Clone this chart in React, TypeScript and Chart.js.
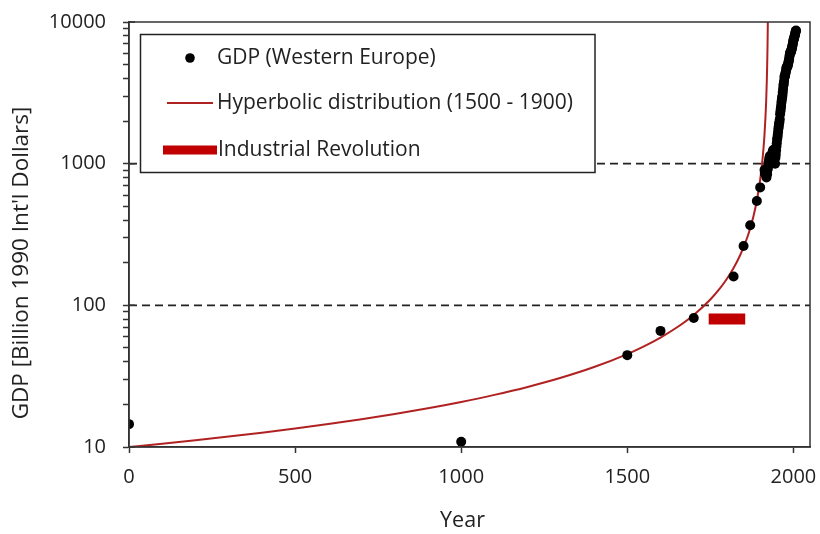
import React, { useEffect, useRef } from "react";
import { Chart, registerables } from "chart.js";

Chart.register(...registerables);

// ---- Data (billion 1990 Int'l dollars) ----
const GDP_YEARS = [
  0, 1000, 1500, 1600, 1700, 1820, 1850, 1870, 1890, 1900,
  1913, 1914, 1915, 1916, 1917, 1918, 1919, 1920, 1921, 1922,
  1923, 1924, 1925, 1926, 1927, 1928, 1929, 1930, 1931, 1932,
  1933, 1934, 1935, 1936, 1937, 1938, 1939, 1940, 1941, 1942,
  1943, 1944, 1945, 1946, 1947, 1948, 1949, 1950, 1951, 1952,
  1953, 1954, 1955, 1956, 1957, 1958, 1959, 1960, 1961, 1962,
  1963, 1964, 1965, 1966, 1967, 1968, 1969, 1970, 1971, 1972,
  1973, 1974, 1975, 1976, 1977, 1978, 1979, 1980, 1981, 1982,
  1983, 1984, 1985, 1986, 1987, 1988, 1989, 1990, 1991, 1992,
  1993, 1994, 1995, 1996, 1997, 1998, 1999, 2000, 2001, 2002,
  2003, 2004, 2005, 2006, 2007, 2008,
];
const GDP_VALUES = [
  14.5, 10.9, 44.5, 66, 81.5, 160, 262, 368, 545, 680,
  902, 860, 850, 870, 850, 840, 800, 850, 845, 910,
  925, 975, 1010, 1020, 1065, 1100, 1130, 1110, 1060, 1030,
  1060, 1090, 1120, 1150, 1200, 1220, 1250, 1210, 1240, 1220,
  1230, 1160, 1000, 1100, 1160, 1240, 1320, 1396, 1480, 1530,
  1600, 1680, 1770, 1840, 1920, 1970, 2060, 2230, 2340, 2440,
  2550, 2700, 2820, 2920, 3020, 3180, 3370, 3560, 3670, 3840,
  4096, 4180, 4150, 4330, 4440, 4570, 4730, 4800, 4810, 4850,
  4930, 5050, 5170, 5310, 5460, 5680, 5880, 6033, 6110, 6190,
  6150, 6330, 6480, 6590, 6760, 6960, 7160, 7430, 7560, 7640,
  7857, 8000, 8150, 8400, 8620, 8700,
];

const CURVE_YEARS = [
  0, 100, 200, 300, 400, 500, 600, 700, 800, 900,
  1000, 1100, 1200, 1300, 1400, 1500, 1550, 1600, 1650, 1700,
  1750, 1780, 1800, 1820, 1840, 1860, 1870, 1880, 1890, 1900,
  1905, 1910, 1913, 1916, 1918, 1920, 1921, 1922, 1923, 1924,
];
const CURVE_VALUES = [
  10.0, 10.55, 11.16, 11.85, 12.62, 13.51, 14.53, 15.71, 17.11, 18.78,
  20.81, 23.33, 26.55, 30.8, 36.67, 45.29, 51.33, 59.23, 70.0, 85.56,
  110, 132.8, 154, 183.3, 226.5, 296.2, 350, 427.8, 550, 770,
  962.5, 1283, 1604, 2139, 2750, 3850, 4813, 6417, 9625, 19250,
];

const IR_YEARS = [1745, 1855];
const IR_LEVEL = 80;

const REF_LEVELS = [100, 1000];

const X_MIN = 0;
const X_MAX = 2050;
const X_TICKS = [0, 500, 1000, 1500, 2000];
const Y_MIN = 10;
const Y_MAX = 10000;
const Y_TICKS = [
  10, 20, 30, 40, 50, 60, 70, 80, 90,
  100, 200, 300, 400, 500, 600, 700, 800, 900,
  1000, 2000, 3000, 4000, 5000, 6000, 7000, 8000, 9000,
  10000,
];
const Y_LABELED = [10, 100, 1000, 10000];

const X_TITLE = "Year";
const Y_TITLE = "GDP [Billion 1990 Int'l Dollars]";
const LEGEND_LABELS = [
  "GDP (Western Europe)",
  "Hyperbolic distribution (1500 - 1900)",
  "Industrial Revolution",
];

const FONT = "'Open Sans', 'Noto Sans', sans-serif";
const TEXT = "#222";
const AXIS = "#333";
const RED_LINE = "#b02222";
const RED_BAR = "#c00000";

const framePlugin = {
  id: "frame",
  afterDraw(chart: any) {
    const { ctx, chartArea } = chart;
    const { left, right, top, bottom } = chartArea;
    ctx.save();
    ctx.strokeStyle = AXIS;
    ctx.lineWidth = 1.5;
    ctx.strokeRect(left, top, right - left, bottom - top);
    // inward part of major ticks
    const y = chart.scales.y;
    ctx.beginPath();
    for (const v of Y_LABELED) {
      const py = y.getPixelForValue(v);
      ctx.moveTo(left, py);
      ctx.lineTo(left + 6, py);
    }
    ctx.stroke();

    // axis titles
    ctx.fillStyle = TEXT;
    ctx.textAlign = "center";
    ctx.textBaseline = "middle";
    ctx.font = `21.5px ${FONT}`;
    ctx.fillText(X_TITLE, 462.5, 521);
    ctx.save();
    ctx.translate(22, 263);
    ctx.rotate(-Math.PI / 2);
    ctx.font = `22.5px ${FONT}`;
    ctx.fillText(Y_TITLE, 0, 0);
    ctx.restore();

    // legend box
    const bx = 140.5, by = 34.5, bw = 454.5, bh = 138;
    ctx.fillStyle = "#fff";
    ctx.fillRect(bx, by, bw, bh);
    ctx.strokeStyle = "#222";
    ctx.lineWidth = 1.5;
    ctx.strokeRect(bx, by, bw, bh);

    ctx.font = `21px ${FONT}`;
    ctx.textBaseline = "middle";
    ctx.textAlign = "left";

    // item 1: dot
    ctx.beginPath();
    ctx.fillStyle = "#000";
    ctx.arc(190, 58, 4.8, 0, Math.PI * 2);
    ctx.fill();
    ctx.fillStyle = TEXT;
    ctx.fillText(LEGEND_LABELS[0], 217, 58);

    // item 2: thin red line
    ctx.beginPath();
    ctx.strokeStyle = RED_LINE;
    ctx.lineWidth = 2;
    ctx.moveTo(167, 103);
    ctx.lineTo(213, 103);
    ctx.stroke();
    ctx.fillText(LEGEND_LABELS[1], 217, 103);

    // item 3: thick red bar
    ctx.fillStyle = RED_BAR;
    ctx.fillRect(163, 145.5, 54, 9);
    ctx.fillStyle = TEXT;
    ctx.fillText(LEGEND_LABELS[2], 218, 150);
    ctx.restore();
  },
};

export default function App() {
  const ref = useRef<HTMLCanvasElement>(null);

  useEffect(() => {
    document.body.style.margin = "0";
    const canvas = ref.current;
    if (!canvas) return;

    const gdpPoints = GDP_YEARS.map((x, i) => ({ x, y: GDP_VALUES[i] }));
    const curvePoints = CURVE_YEARS.map((x, i) => ({ x, y: CURVE_VALUES[i] }));
    const irPoints = IR_YEARS.map((x) => ({ x, y: IR_LEVEL }));

    const refSets = REF_LEVELS.map((lvl, i) => ({
      label: "ref" + i,
      data: [
        { x: X_MIN, y: lvl },
        { x: X_MAX, y: lvl },
      ],
      showLine: true,
      borderColor: "#222",
      borderWidth: 1.8,
      borderDash: [8, 5],
      pointRadius: 0,
      order: 4,
    }));

    const chart = new Chart(canvas, {
      type: "scatter",
      data: {
        datasets: [
          {
            label: LEGEND_LABELS[0],
            data: gdpPoints,
            backgroundColor: "#000",
            borderColor: "#000",
            borderWidth: 0,
            pointRadius: 5,
            showLine: false,
            order: 0,
          },
          {
            label: LEGEND_LABELS[1],
            data: curvePoints,
            showLine: true,
            borderColor: RED_LINE,
            borderWidth: 2,
            pointRadius: 0,
            cubicInterpolationMode: "monotone",
            order: 1,
          },
          {
            label: LEGEND_LABELS[2],
            data: irPoints,
            showLine: true,
            borderColor: RED_BAR,
            borderWidth: 11,
            borderCapStyle: "butt",
            pointRadius: 0,
            order: 2,
          },
          ...refSets,
        ] as any,
      },
      options: {
        responsive: false,
        animation: false,
        events: [],
        layout: { padding: { top: 22, right: 10, left: 0, bottom: 0 } },
        plugins: {
          legend: { display: false },
          tooltip: { enabled: false },
        },
        scales: {
          x: {
            type: "linear",
            min: X_MIN,
            max: X_MAX,
            afterBuildTicks: (s: any) => {
              s.ticks = X_TICKS.map((v) => ({ value: v }));
            },
            afterFit: (s: any) => {
              s.height = 87;
              s.paddingLeft = 0;
              s.paddingRight = 0;
              s.paddingTop = 0;
              s.paddingBottom = 0;
            },
            ticks: {
              autoSkip: false,
              maxRotation: 0,
              includeBounds: false,
              padding: 12,
              color: TEXT,
              font: { family: FONT, size: 20 },
              callback: (v: any) => String(v),
            },
            grid: {
              drawOnChartArea: false,
              drawTicks: true,
              tickLength: 6,
              tickColor: AXIS,
              tickWidth: 1.5,
            },
            border: { color: AXIS, width: 1.5 },
            title: { display: false },
          },
          y: {
            type: "logarithmic",
            min: Y_MIN,
            max: Y_MAX,
            afterBuildTicks: (s: any) => {
              s.ticks = Y_TICKS.map((v) => ({ value: v }));
            },
            afterFit: (s: any) => {
              s.width = 129;
              s.paddingLeft = 0;
              s.paddingRight = 0;
              s.paddingTop = 0;
              s.paddingBottom = 0;
            },
            ticks: {
              autoSkip: false,
              padding: 17,
              color: TEXT,
              font: { family: FONT, size: 20 },
              callback: (v: any) => (Y_LABELED.includes(Number(v)) ? String(v) : ""),
            },
            grid: {
              drawOnChartArea: false,
              drawTicks: true,
              tickLength: 6,
              tickColor: AXIS,
              tickWidth: 1.5,
            },
            border: { color: AXIS, width: 1.5 },
            title: { display: false },
          },
        },
      } as any,
      plugins: [framePlugin],
    });

    return () => chart.destroy();
  }, []);

  return (
    <div style={{ width: 820, height: 534 }}>
      <canvas ref={ref} width={820} height={534} style={{ display: "block" }} />
    </div>
  );
}
